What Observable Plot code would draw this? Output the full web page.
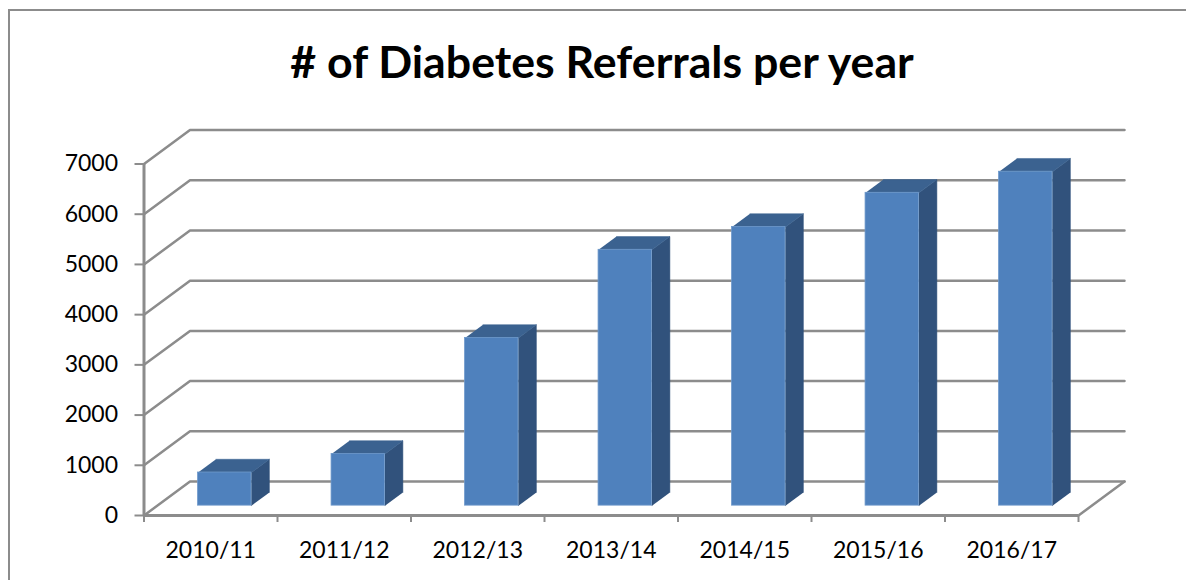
<!DOCTYPE html>
<html><head><meta charset="utf-8">
<script src="https://cdn.jsdelivr.net/npm/d3@7"></script>
<script src="https://cdn.jsdelivr.net/npm/@observablehq/plot@0.6"></script>
<style>
html,body{margin:0;padding:0;background:#fff;overflow:hidden;width:1186px;height:580px}
#frame{position:absolute;left:8px;top:9px;width:1300px;height:700px;border:2px solid #8c8c8c;box-sizing:border-box}
#title{position:relative;height:100px;box-sizing:border-box;padding-top:35px;text-align:center;font:bold 44.7px Lato,sans-serif;color:#000;width:1204px;line-height:52px}
#chart{position:relative;display:block}
svg{display:block}
</style></head><body>
<div id="frame"></div>
<div id="title"># of Diabetes Referrals per year</div>
<div id="chart"></div>
<script>
const categories = ["2010/11","2011/12","2012/13","2013/14","2014/15","2015/16","2016/17"];
const referrals = [660, 1030, 3340, 5095, 5550, 6230, 6650];
const yTicks = [0,1000,2000,3000,4000,5000,6000,7000];
const xTicks = [0,1,2,3,4,5,6,7];

// oblique projection of the depth axis, in data units
const depthX = 46/133.5, depthY = 34/50.25*1000;
const project = (i, v, d) => ({x: i + d*depthX, y: v + d*depthY});
const gap = 0.305, barW = 0.4, d0 = 0.29, d1 = 0.68;

const grid = yTicks.map(v => {
  return [project(0,v,0), project(0,v,1), project(7,v,1)].map(p => ({...p, id:v}));
}).flat();
const floorRight = [project(7,0,0), project(7,0,1)];

const rows = referrals.map((v,i) => {
  const a = i + gap, b = a + barW;
  const front = {x1: project(a,0,d0).x, x2: project(b,0,d0).x, y1: project(a,0,d0).y, y2: project(a,v,d0).y};
  const top = [project(a,v,d0),project(b,v,d0),project(b,v,d1),project(a,v,d1)].map(p=>({...p,id:"t"+i}));
  const side = [project(b,0,d0),project(b,v,d0),project(b,v,d1),project(b,0,d1)].map(p=>({...p,id:"s"+i}));
  return {front, top, side};
});

const gridColor = "#8c8c8c";
const plot = Plot.plot({
  width:1186, height:480,
  marginLeft:143.5, marginRight:108, marginTop:63.5, marginBottom:65,
  x:{type:"linear", domain:[0,7]},
  y:{type:"linear", domain:[0,7000]},
  style:{fontFamily:"Lato, sans-serif", fontSize:"23px", background:"transparent", overflow:"visible"},
  marks:[
    Plot.line(grid,{x:"x",y:"y",z:"id",stroke:gridColor,strokeWidth:2.5,curve:"linear"}),
    Plot.line(floorRight,{x:"x",y:"y",stroke:gridColor,strokeWidth:2.5}),
    Plot.ruleX([0],{stroke:gridColor,strokeWidth:3}),
    Plot.ruleY([0],{stroke:gridColor,strokeWidth:3}),
    Plot.axisY({ticks:yTicks,tickSize:9,tickPadding:17,tickFormat:d=>String(d),label:null,stroke:gridColor,strokeWidth:2,fill:"#000"}),
    Plot.axisX({ticks:xTicks,tickSize:7,tickFormat:()=>"",label:null,stroke:gridColor,strokeWidth:2}),
    Plot.axisX({ticks:xTicks.slice(0,7).map(d=>d+0.5),tickSize:0,tickPadding:26,tickFormat:d=>categories[Math.floor(d)],label:null,fill:"#000"}),
    Plot.line(rows.flatMap(r=>r.side),{x:"x",y:"y",z:"id",fill:"#31527c",stroke:"#31527c",strokeWidth:0.5}),
    Plot.line(rows.flatMap(r=>r.top),{x:"x",y:"y",z:"id",fill:"#3b6290",stroke:"#3b6290",strokeWidth:0.5}),
    Plot.rect(rows.map(r=>r.front),{x1:"x1",x2:"x2",y1:"y1",y2:"y2",fill:"#4f81bd",stroke:"#6f9acb",strokeWidth:0.8})
  ]
});
document.getElementById("chart").appendChild(plot);
</script>
</body></html>
